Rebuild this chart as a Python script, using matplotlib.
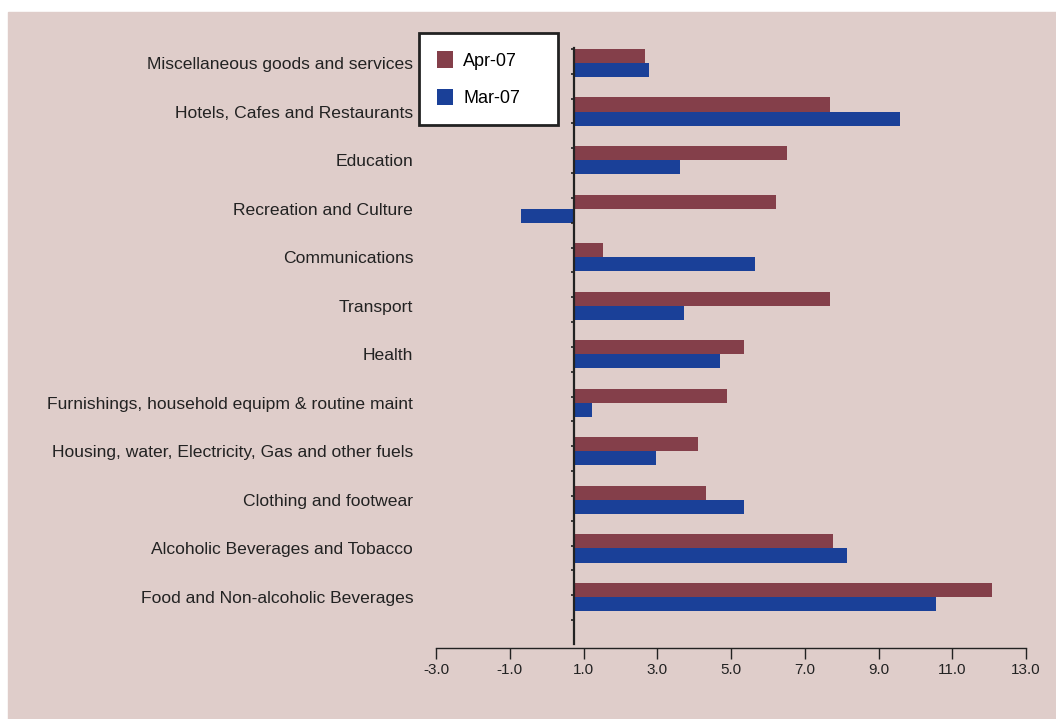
import numpy as np
import matplotlib
matplotlib.use("Agg")
import matplotlib.pyplot as plt
from matplotlib.patches import Rectangle

# annual change by CPI group, %
categories = [
    "Miscellaneous goods and services",
    "Hotels, Cafes and Restaurants",
    "Education",
    "Recreation and Culture",
    "Communications",
    "Transport",
    "Health",
    "Furnishings, household equipm & routine maint",
    "Housing, water, Electricity, Gas and other fuels",
    "Clothing and footwear",
    "Alcoholic Beverages and Tobacco",
    "Food and Non-alcoholic Beverages",
]
apr07 = np.array([2.67, 7.68, 6.52, 6.22, 1.53, 7.68, 5.35, 4.89, 4.11, 4.32, 7.77, 12.08])
mar07 = np.array([2.78, 9.58, 3.62, -0.69, 5.65, 3.73, 4.70, 1.23, 2.97, 5.35, 8.15, 10.56])
xticks = [-3.0, -1.0, 1.0, 3.0, 5.0, 7.0, 9.0, 11.0, 13.0]
BASE = 0.75  # where the category axis crosses

plt.rcParams["font.family"] = ["Liberation Sans", "DejaVu Sans"]

W, H = 1056, 719
BG = "#dfcdca"
C_APR = "#843f4a"
C_MAR = "#1a4098"
INK = "#222222"

fig = plt.figure(figsize=(W / 100, H / 100), dpi=100)
fig.patches.append(Rectangle((8 / W, 0), 1 - 8 / W, 1 - 12 / H,
                             transform=fig.transFigure, color=BG, zorder=-5))

ax = fig.add_axes([436 / W, 1 - 644 / H, 590 / W, 596 / H])
ax.set_zorder(2)
ax.set_facecolor("none")

y = np.arange(len(categories))
bh = 0.29
ax.barh(y - bh / 2, apr07 - BASE, height=bh, left=BASE, color=C_APR, label="Apr-07")
ax.barh(y + bh / 2, mar07 - BASE, height=bh, left=BASE, color=C_MAR, label="Mar-07")

ax.set_xlim(-3, 13)
ax.set_ylim(11.968, -0.309)

for s in ("top", "right"):
    ax.spines[s].set_visible(False)
ax.spines["left"].set_position(("data", BASE))
ax.spines["left"].set_linewidth(1.6)
ax.spines["bottom"].set_position(("outward", 3))
ax.spines["bottom"].set_linewidth(1.0)
ax.spines["left"].set_color(INK)
ax.spines["bottom"].set_color(INK)

ax.set_xticks(xticks)
ax.set_xticklabels([f"{t:.1f}" for t in xticks], fontsize=11)
ax.tick_params(axis="x", direction="out", length=8, width=1.0, pad=3,
               color=INK, labelcolor=INK)

ax.set_yticks(y)
ax.set_yticklabels(categories, fontsize=12.6)
ax.tick_params(axis="y", which="major", length=0, pad=116, labelcolor=INK)
ax.set_yticks(np.linspace(-0.288, 11.474, 24), minor=True)
ax.tick_params(axis="y", which="minor", direction="out", length=2.5, width=1.2,
               color=INK)

leg = ax.legend(loc="upper left", bbox_to_anchor=(419 / W, 1 - 33 / H, 139 / W, 0),
                bbox_transform=fig.transFigure, mode="expand", ncol=1,
                fontsize=13, frameon=True, fancybox=False, borderaxespad=0,
                borderpad=1.0, labelspacing=1.05, handlelength=0.9,
                handleheight=1.05, handletextpad=0.55)
leg.get_frame().set_edgecolor(INK)
leg.get_frame().set_linewidth(2.0)
leg.get_frame().set_facecolor("white")
leg.get_frame().set_alpha(1)

fig.savefig("out.png", dpi=100)
